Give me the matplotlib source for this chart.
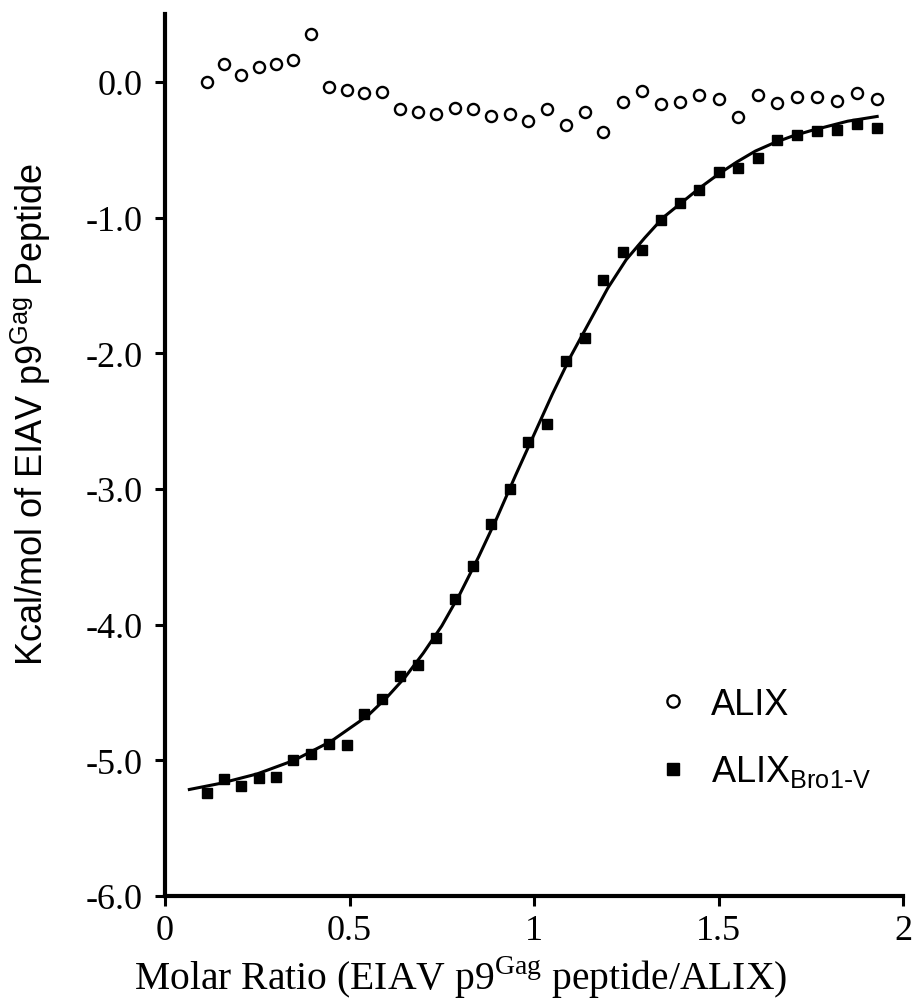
import numpy as np
import matplotlib
matplotlib.use("Agg")
from matplotlib import pyplot as plt

plt.rcParams['axes.unicode_minus'] = False

# molar ratio of each injection
ratio = [0.113, 0.160, 0.206, 0.254, 0.301, 0.348, 0.396, 0.444, 0.492, 0.540,
         0.588, 0.637, 0.686, 0.735, 0.785, 0.834, 0.884, 0.934, 0.985, 1.035,
         1.086, 1.137, 1.188, 1.240, 1.292, 1.344, 1.396, 1.448, 1.500, 1.554,
         1.606, 1.659, 1.712, 1.767, 1.821, 1.874, 1.929]

# ALIX (open circles)
alix = [0.00, 0.13, 0.05, 0.11, 0.135, 0.16, 0.35, -0.04, -0.06, -0.08,
        -0.076, -0.20, -0.22, -0.24, -0.19, -0.20, -0.25, -0.24, -0.29, -0.20,
        -0.32, -0.22, -0.37, -0.145, -0.07, -0.165, -0.15, -0.10, -0.13, -0.26,
        -0.10, -0.155, -0.11, -0.115, -0.14, -0.08, -0.13]

# ALIX Bro1-V (filled squares)
bro1v = [-5.24, -5.14, -5.19, -5.13, -5.12, -5.00, -4.95, -4.88, -4.89, -4.66,
         -4.55, -4.38, -4.30, -4.10, -3.81, -3.57, -3.26, -3.00, -2.655, -2.52,
         -2.06, -1.89, -1.46, -1.255, -1.236, -1.017, -0.89, -0.80, -0.665, -0.636,
         -0.558, -0.425, -0.395, -0.36, -0.356, -0.31, -0.34]

# fitted curve
fit_x = [0.066, 0.15, 0.25, 0.35, 0.45, 0.55, 0.60, 0.65, 0.70, 0.75, 0.80,
         0.85, 0.90, 0.95, 1.00, 1.05, 1.10, 1.15, 1.20, 1.25, 1.30, 1.35,
         1.40, 1.45, 1.50, 1.55, 1.60, 1.65, 1.70, 1.75, 1.80, 1.85, 1.93]
fit_y = [-5.215, -5.17, -5.10, -5.00, -4.86, -4.67, -4.54, -4.39, -4.21, -4.01, -3.77,
         -3.50, -3.21, -2.90, -2.60, -2.30, -2.02, -1.77, -1.52, -1.31, -1.15, -1.00,
         -0.89, -0.78, -0.68, -0.59, -0.51, -0.45, -0.40, -0.36, -0.325, -0.29, -0.255]

xticks = [0, 0.5, 1, 1.5, 2]
xticklabels = ['0', '0.5', '1', '1.5', '2']
yticks = [-6, -5, -4, -3, -2, -1, 0]

W, H = 913, 1004
fig = plt.figure(figsize=(W / 100, H / 100), dpi=100)
ax = fig.add_axes([165 / W, 1 - 897 / H, (903 - 165) / W, (897 - 15) / H])

ax.plot(fit_x, fit_y, color='black', lw=2.2, zorder=2)
ax.plot(ratio, alix, 'o', ls='none', ms=8, mfc='white', mec='black', mew=1.7,
        label='ALIX', zorder=3)
ax.plot(ratio, bro1v, 's', ls='none', ms=7.8, color='black',
        label=r'ALIX$_{\mathregular{Bro1\text{-}V}}$', zorder=3)

ax.set_xlim(0, 2)
ax.set_ylim(-6, 0.5)
ax.set_xticks(xticks)
ax.set_xticklabels(xticklabels)
ax.set_yticks(yticks)
ax.set_yticklabels(['%.1f' % v for v in yticks])

for s in ['top', 'right']:
    ax.spines[s].set_visible(False)
for s in ['left', 'bottom']:
    ax.spines[s].set_linewidth(3)
ax.tick_params(direction='out', length=7, width=2.2, labelsize=26)
ax.tick_params(axis='y', pad=9)
ax.tick_params(axis='x', pad=6)
for lab in ax.get_xticklabels() + ax.get_yticklabels():
    lab.set_fontfamily('Liberation Serif')

leg = ax.legend(loc='upper left', bbox_to_anchor=(655 / W, 1 - 688 / H),
                bbox_transform=fig.transFigure, frameon=False,
                prop={'family': 'Liberation Sans', 'size': 26},
                handlelength=1, handletextpad=0.55, labelspacing=0.87,
                borderpad=0, borderaxespad=0, markerscale=1.1)

fig.text(31 / W, 1 - 414 / H, r'Kcal/mol of EIAV p9$^{\mathregular{Gag}}$ Peptide',
         rotation=90, ha='center', va='center', family='Liberation Sans', size=26)
fig.text(461 / W, 1 - 978 / H, r'Molar Ratio (EIAV p9$^{\mathregular{Gag}}$ peptide/ALIX)',
         ha='center', va='center', family='Liberation Serif', size=28.5)

fig.savefig('out.png', dpi=100)
